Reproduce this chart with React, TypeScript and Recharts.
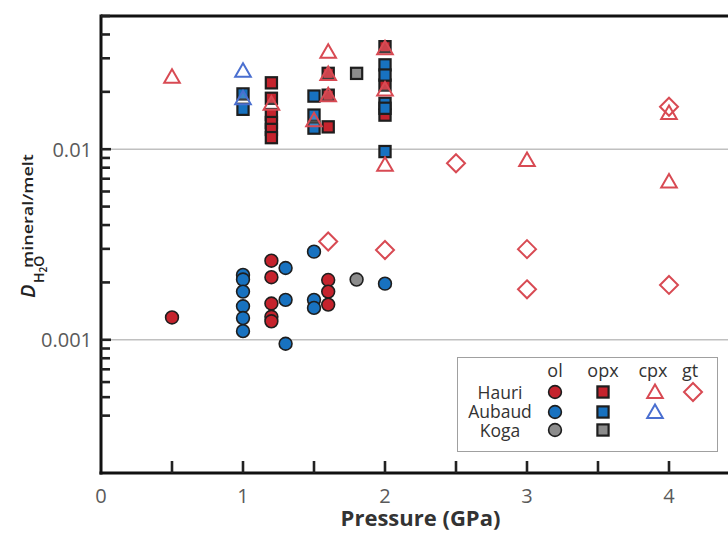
import React from 'react';
import { ScatterChart, Scatter, XAxis, YAxis, ReferenceLine } from 'recharts';

// [pressure (GPa), D mineral/melt]
const hauriOl: [number, number][] = [[0.5, 0.00131], [1.2, 0.0026], [1.2, 0.00213], [1.2, 0.00155], [1.2, 0.00132], [1.2, 0.00125], [1.6, 0.00206], [1.6, 0.00179], [1.6, 0.00153]];
const aubaudOl: [number, number][] = [[1.0, 0.00219], [1.0, 0.00207], [1.0, 0.00179], [1.0, 0.0015], [1.0, 0.0013], [1.0, 0.00111], [1.3, 0.00238], [1.3, 0.00162], [1.3, 0.000953], [1.5, 0.0029], [1.5, 0.00162], [1.5, 0.00147], [2.0, 0.00197]];
const kogaOl: [number, number][] = [[1.8, 0.00207]];
const hauriOpx: [number, number][] = [[1.2, 0.0223], [1.2, 0.0185], [1.2, 0.0152], [1.2, 0.0138], [1.2, 0.0127], [1.2, 0.0115], [1.6, 0.025], [1.6, 0.0192], [1.6, 0.0131], [2.0, 0.0345], [2.0, 0.0217], [2.0, 0.0151]];
const aubaudOpx: [number, number][] = [[1.0, 0.0195], [1.0, 0.0162], [1.5, 0.019], [1.5, 0.0151], [1.5, 0.0129], [2.0, 0.0277], [2.0, 0.0245], [2.0, 0.0174], [2.0, 0.0164], [2.0, 0.00972]];
const kogaOpx: [number, number][] = [[1.8, 0.025]];
const hauriCpx: [number, number][] = [[0.5, 0.024], [1.2, 0.0173], [1.5, 0.0142], [1.6, 0.0325], [1.6, 0.0248], [1.6, 0.0192], [2.0, 0.0339], [2.0, 0.0206], [2.0, 0.00828], [3.0, 0.00877], [4.0, 0.0155], [4.0, 0.00676]];
const aubaudCpx: [number, number][] = [[1.0, 0.0258], [1.0, 0.0185]];
const hauriGt: [number, number][] = [[1.6, 0.00328], [2.0, 0.00296], [2.5, 0.00844], [3.0, 0.00299], [3.0, 0.00184], [4.0, 0.0167], [4.0, 0.00194]];

const xTicks = [0, 0.5, 1, 1.5, 2, 2.5, 3, 3.5, 4];
const xLabels = [0, 1, 2, 3, 4];
const yTicks = [0.0004, 0.0005, 0.0006, 0.0007, 0.0008, 0.0009, 0.001, 0.002, 0.003, 0.004, 0.005, 0.006, 0.007, 0.008, 0.009, 0.01, 0.02, 0.03, 0.04, 0.05];
const yLabels = [0.001, 0.01];
const rows = ['Hauri', 'Aubaud', 'Koga'];
const cols = ['ol', 'opx', 'cpx', 'gt'];

const RED = '#c5232d';
const BLUE = '#1872c0';
const GREY = '#8c8c8c';
const OPEN_RED = '#d84a53';
const OPEN_BLUE = '#4a6fd0';
const EDGE = '#1e1e1e';
const FONT = "'Open Sans', 'Noto Sans', sans-serif";

const toData = (arr: [number, number][]) => arr.map(([p, d]) => ({ p, d }));

const circle = (fill: string) => (props: any) => (
  <circle cx={props.cx} cy={props.cy} r={6.4} fill={fill} stroke={EDGE} strokeWidth={1.6} />
);
const square = (fill: string) => (props: any) => (
  <rect x={props.cx - 5.6} y={props.cy - 5.6} width={11.2} height={11.2} fill={fill} stroke={EDGE} strokeWidth={2.2} />
);
const triangle = (color: string) => (props: any) => {
  const { cx, cy } = props;
  return <path d={`M${cx},${cy - 7.5} L${cx + 7.8},${cy + 6} L${cx - 7.8},${cy + 6} Z`} fill="#fff" fillOpacity={0.15} stroke={color} strokeWidth={2} strokeLinejoin="miter" />;
};
const diamond = (color: string) => (props: any) => {
  const { cx, cy } = props;
  return <path d={`M${cx},${cy - 9} L${cx + 9},${cy} L${cx},${cy + 9} L${cx - 9},${cy} Z`} fill="none" stroke={color} strokeWidth={2} />;
};

const XTick = (props: any) => {
  const { x, y, payload } = props;
  const v = payload.value;
  return (
    <g>
      {v > 0 && <line x1={x} y1={y} x2={x} y2={y - 12} stroke="#222" strokeWidth={2.6} />}
      {xLabels.includes(v) && (
        <text x={x} y={y + 22} textAnchor="middle" dominantBaseline="central" fontSize={20} fill="#5a5a5a" fontFamily={FONT}>
          {v}
        </text>
      )}
    </g>
  );
};

const YTick = (props: any) => {
  const { x, y, payload } = props;
  const v = payload.value;
  const major = yLabels.includes(v);
  return (
    <g>
      <line x1={x} y1={y} x2={x + (major ? 10 : 9)} y2={y} stroke="#222" strokeWidth={2.6} />
      {major && (
        <text x={x - 9} y={y} textAnchor="end" dominantBaseline="central" fontSize={20} fill="#5a5a5a" fontFamily={FONT}>
          {String(v)}
        </text>
      )}
    </g>
  );
};

const YTitle = () => (
  <g transform="translate(35,298) rotate(-90)" fontFamily={FONT} fill="#222">
    <text x={0} y={0}>
      <tspan fontSize={20} fontStyle="italic" fontWeight={600}>D</tspan>
    </text>
    <text x={15} y={9} fontSize={14} fontWeight={600}>
      <tspan>H</tspan>
      <tspan fontSize={10} dy={3}>2</tspan>
      <tspan dy={-3}>O</tspan>
    </text>
    <text x={30} y={-2} fontSize={15} fontWeight={600} textLength={114} lengthAdjust="spacingAndGlyphs">
      mineral/melt
    </text>
  </g>
);

const legendMarker = (r: number, c: number) => {
  const cx = [98, 146, 198, 236][c];
  const cy = [35, 55, 73][r];
  const key = `${r}-${c}`;
  if (c === 0) return <circle key={key} cx={cx} cy={cy} r={6.4} fill={[RED, BLUE, GREY][r]} stroke={EDGE} strokeWidth={1.6} />;
  if (c === 1) return <rect key={key} x={cx - 5.6} y={cy - 5.6} width={11.2} height={11.2} fill={[RED, BLUE, GREY][r]} stroke={EDGE} strokeWidth={2.2} />;
  if (c === 2 && r < 2) {
    const col = r === 0 ? OPEN_RED : OPEN_BLUE;
    return <path key={key} d={`M${cx},${cy - 7.5} L${cx + 7.8},${cy + 6} L${cx - 7.8},${cy + 6} Z`} fill="none" stroke={col} strokeWidth={2} />;
  }
  if (c === 3 && r === 0) {
    return <path key={key} d={`M${cx},${cy - 9} L${cx + 9},${cy} L${cx},${cy + 9} L${cx - 9},${cy} Z`} fill="none" stroke={OPEN_RED} strokeWidth={2} />;
  }
  return null;
};

const Legend = () => (
  <div style={{ position: 'absolute', left: 457, top: 357, width: 261, height: 95, border: '1.5px solid #a0a0a0', boxSizing: 'border-box', background: '#fff' }}>
    <svg width={261} height={95} style={{ position: 'absolute', left: -1.5, top: -1.5, overflow: 'visible' }}>
      {cols.map((c, i) => (
        <text key={c} x={[98, 146, 196, 233][i]} y={13} textAnchor="middle" dominantBaseline="central" fontSize={18} fill="#333" fontFamily={FONT}>
          {c}
        </text>
      ))}
      {rows.map((r, i) => (
        <text key={r} x={43} y={[35, 54, 73][i]} textAnchor="middle" dominantBaseline="central" fontSize={17.5} fill="#333" fontFamily={FONT}>
          {r}
        </text>
      ))}
      {rows.map((_, r) => cols.map((__, c) => legendMarker(r, c)))}
    </svg>
  </div>
);

export default function App() {
  return (
    <div style={{ position: 'absolute', left: 0, top: 0, width: 728, height: 533, overflow: 'hidden', background: '#fff', fontFamily: FONT }}>
      <ScatterChart width={760} height={533} margin={{ top: 16, right: 20, left: 0, bottom: 0 }}>
        <XAxis
          type="number"
          dataKey="p"
          domain={[0, 4.5]}
          ticks={xTicks}
          interval={0}
          tickSize={0}
          tickMargin={0}
          tickLine={false}
          tick={<XTick />}
          height={60}
          axisLine={{ stroke: '#111', strokeWidth: 3, strokeLinecap: 'square' }}
          allowDataOverflow
          label={{ value: 'Pressure (GPa)', position: 'insideBottom', offset: 7, style: { fontSize: 22, fontWeight: 700, fill: '#333', fontFamily: FONT } }}
        />
        <YAxis
          type="number"
          dataKey="d"
          scale="log"
          domain={[0.0002, 0.05]}
          ticks={yTicks}
          interval={0}
          tickSize={0}
          tickMargin={0}
          tickLine={false}
          tick={<YTick />}
          width={101}
          axisLine={{ stroke: '#111', strokeWidth: 3, strokeLinecap: 'square' }}
          allowDataOverflow
          label={{ content: <YTitle /> }}
        />
        <ReferenceLine y={0.01} stroke="#c0c0c0" strokeWidth={1.5} />
        <ReferenceLine y={0.001} stroke="#c0c0c0" strokeWidth={1.5} />
        <ReferenceLine y={0.05} stroke="#111" strokeWidth={3} />
        <Scatter data={toData(hauriOpx)} shape={square(RED)} isAnimationActive={false} />
        <Scatter data={toData(aubaudOpx)} shape={square(BLUE)} isAnimationActive={false} />
        <Scatter data={toData(kogaOpx)} shape={square(GREY)} isAnimationActive={false} />
        <Scatter data={toData(hauriOl)} shape={circle(RED)} isAnimationActive={false} />
        <Scatter data={toData(aubaudOl)} shape={circle(BLUE)} isAnimationActive={false} />
        <Scatter data={toData(kogaOl)} shape={circle(GREY)} isAnimationActive={false} />
        <Scatter data={toData(hauriCpx)} shape={triangle(OPEN_RED)} isAnimationActive={false} />
        <Scatter data={toData(aubaudCpx)} shape={triangle(OPEN_BLUE)} isAnimationActive={false} />
        <Scatter data={toData(hauriGt)} shape={diamond(OPEN_RED)} isAnimationActive={false} />
      </ScatterChart>
      <Legend />
    </div>
  );
}
